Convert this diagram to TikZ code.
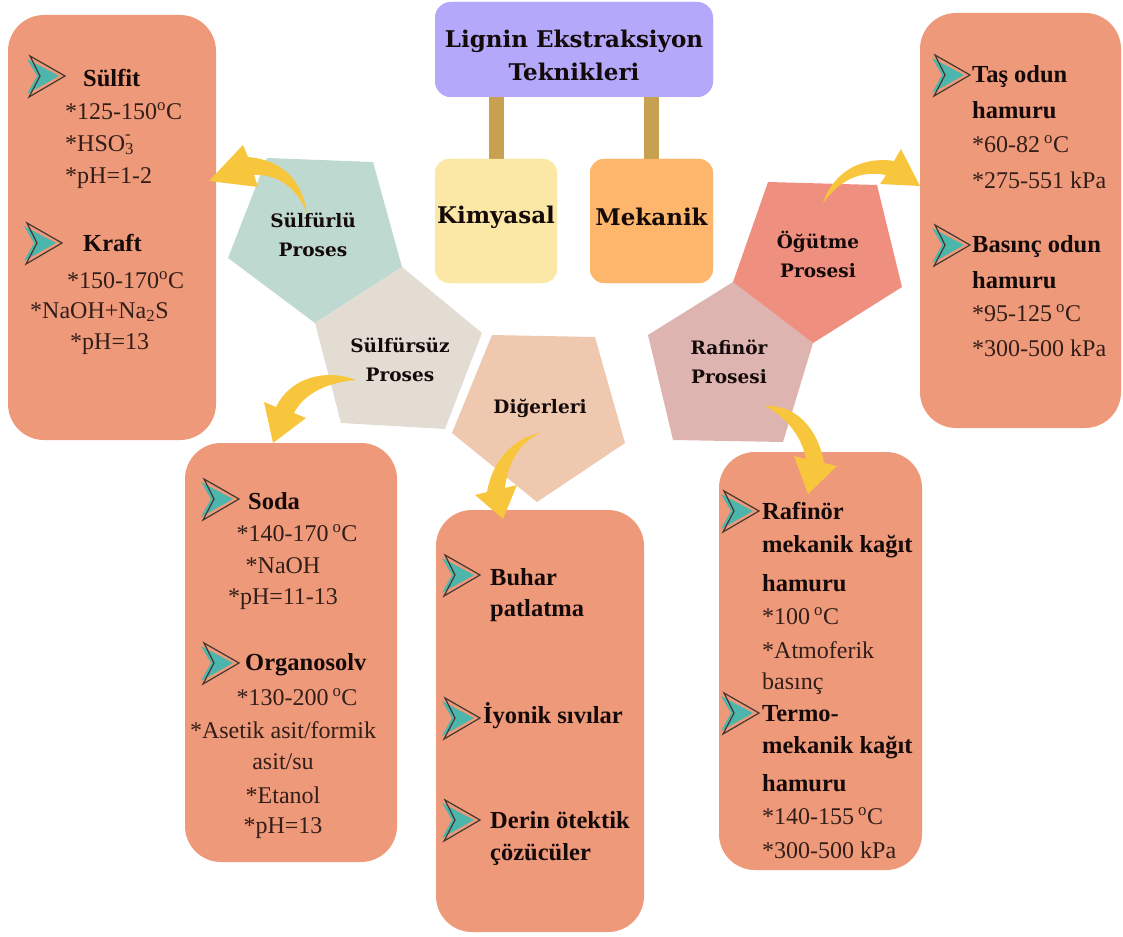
\documentclass[tikz,border=0pt]{standalone}
\usepackage{fontspec}
\setmainfont{Liberation Serif}
\newfontfamily\dvserif{DejaVu Serif}
\definecolor{boxc}{RGB}{238,153,121}
\definecolor{titlec}{RGB}{180,168,250}
\definecolor{kimc}{RGB}{252,232,166}
\definecolor{mekc}{RGB}{253,182,108}
\definecolor{barc}{RGB}{199,160,80}
\definecolor{pentA}{RGB}{190,217,208}
\definecolor{pentB}{RGB}{227,220,211}
\definecolor{pentC}{RGB}{238,200,175}
\definecolor{pentD}{RGB}{238,143,128}
\definecolor{pentE}{RGB}{222,180,176}
\definecolor{arrc}{RGB}{248,198,60}
\definecolor{tealc}{RGB}{77,182,172}
\definecolor{outc}{RGB}{70,55,50}
\definecolor{valc}{RGB}{50,30,25}
\definecolor{headc}{RGB}{20,10,10}
\tikzset{
  chev/.pic={
    \fill[tealc] (-1,-17) -- (31,0) -- (-1,18) -- (9,0) -- cycle;
    \draw[outc, line width=1.2pt, line join=miter] (2,-20) -- (37,0) -- (1,21) -- (12,0) -- cycle;
  }
}
\begin{document}
\begin{tikzpicture}[x=1pt,y=-1pt,
  obox/.style={fill=boxc, rounded corners=36pt, inner sep=0pt},
  sbox/.style={rounded corners=14pt, inner sep=0pt},
  bar/.style={draw=barc, line width=15pt},
  hd/.style={font=\fontsize{24.5}{27}\selectfont\bfseries, text=headc, anchor=west, inner sep=0pt},
  vl/.style={font=\fontsize{24}{27}\selectfont, text=valc, anchor=west, inner sep=0pt},
  vc/.style={font=\fontsize{24}{27}\selectfont, text=valc, anchor=center, inner sep=0pt},
  plabel/.style={font=\dvserif\bfseries\fontsize{18.5}{29}\selectfont, text=headc, align=center, inner sep=0pt},
  yarrow/.style={fill=arrc}
]
\useasboundingbox (0,0) rectangle (1123,936);

% ---- top of the tree: title and the two branches ----
\node[sbox, fill=kimc, minimum width=122pt, minimum height=124pt] (kim) at (496,221) {};
\node[sbox, fill=mekc, minimum width=123pt, minimum height=124pt] (mek) at (651.5,221) {};
\node[sbox, rounded corners=16pt, fill=titlec, minimum width=278pt, minimum height=95pt] (title) at (574,49.5) {};
\draw[bar] (title.south -| kim.north) -- (kim.north);
\draw[bar] (title.south -| mek.north) -- (mek.north);
\node[sbox, fill=kimc, minimum width=122pt, minimum height=124pt] at (kim) {};
\node[sbox, fill=mekc, minimum width=123pt, minimum height=124pt] at (mek) {};
\node[sbox, rounded corners=16pt, fill=titlec, minimum width=278pt, minimum height=95pt] at (title) {};
\node[font=\dvserif\bfseries\fontsize{23}{33}\selectfont, text=headc, align=center, inner sep=0pt] (titletext) at (574,55) {Lignin Ekstraksiyon\\Teknikleri};
\node[font=\dvserif\bfseries\fontsize{23}{26}\selectfont, text=headc, inner sep=0pt] (kimtext) at (496,217) {Kimyasal};
\node[font=\dvserif\bfseries\fontsize{23}{26}\selectfont, text=headc, inner sep=0pt] (mektext) at (651.5,217) {Mekanik};

% ---- pentagons ----
\fill[pentA] (267,158) -- (373,162) -- (402,267) -- (315,323) -- (228,258) -- cycle;
\fill[pentB] (402,267) -- (482,333) -- (445,429) -- (341,423) -- (315,323) -- cycle;
\fill[pentC] (492,335) -- (595,337) -- (625,443) -- (537,502) -- (452,433) -- cycle;
\fill[pentE] (733,282) -- (813,343) -- (783,442) -- (673,440) -- (648,335) -- cycle;
\fill[pentD] (768,182) -- (877,185) -- (902,287) -- (813,343) -- (733,282) -- cycle;
\node[plabel] (pSulfurlu) at (313,235) {Sülfürlü\\Proses};
\node[plabel] (pSulfursuz) at (400,360) {Sülfürsüz\\Proses};
\node[plabel] (pDiger) at (540,408) {Diğerleri};
\node[plabel] (pOgutme) at (818,254) {Öğütme\\Prosesi};
\node[plabel] (pRafinor) at (729,362) {Rafinör\\Prosesi};

% ---- detail boxes ----
\node[obox, minimum width=208pt, minimum height=425pt] (bSul) at (112,227.5) {};
\node[obox, minimum width=201pt, minimum height=415pt] (bTas) at (1020.5,220.5) {};
\node[obox, minimum width=212pt, minimum height=419pt] (bSoda) at (291,652.5) {};
\node[obox, minimum width=208pt, minimum height=422pt] (bDig) at (540,721) {};
\node[obox, minimum width=203pt, minimum height=418pt] (bRaf) at (820.5,661) {};

% ---- curved yellow arrows ----
\fill[yarrow] (307,213) .. controls (302,180) and (282,160) .. (248,157) -- (243,145) -- (209,181) -- (258,187) -- (254,175) .. controls (276,174) and (296,186) .. (307,213) -- cycle;
\fill[yarrow] (356,380) .. controls (325,368) and (290,378) .. (276,407) -- (264,402) -- (273,443) -- (306,418) -- (294,413) .. controls (305,392) and (330,382) .. (356,380) -- cycle;
\fill[yarrow] (540,433) .. controls (515,438) and (493,458) .. (487,492) -- (475,495) -- (503,519) -- (517,485) -- (505,488) .. controls (508,462) and (520,442) .. (540,433) -- cycle;
\fill[yarrow] (823,203) .. controls (833,172) and (862,156) .. (894,161) -- (901,149) -- (920,186) -- (880,184) -- (886,175) .. controls (860,170) and (840,180) .. (823,203) -- cycle;
\fill[yarrow] (765,406) .. controls (795,404) and (818,428) .. (824,463) -- (837,466) -- (808,494) -- (794,456) -- (806,459) .. controls (802,438) and (788,418) .. (765,406) -- cycle;

% ---- Sülfit / Kraft ----
\pic at (28,76) {chev};
\node[hd] (hSulfit) at (83,78) {Sülfit};
\node[vl] at (65,111) {*125-150\textsuperscript{o}C};
\node[vl] at (65,145) {*HSO\rlap{\raisebox{0.25ex}{\textsuperscript{-}}}\textsubscript{3}};
\node[vl] at (65,178) {*pH=1-2};
\pic at (25,243) {chev};
\node[hd] (hKraft) at (83,243) {Kraft};
\node[vl] at (67,280) {*150-170\textsuperscript{o}C};
\node[vl] at (30,312) {*NaOH+Na\textsubscript{2}S};
\node[vl] at (70,344) {*pH=13};

% ---- Taş / Basınç odun hamuru ----
\pic at (933,75) {chev};
\node[hd] (hTas) at (972,77) {Taş odun};
\node[hd] at (972,110) {hamuru};
\node[vl] at (972,144) {*60-82\,\textsuperscript{o}C};
\node[vl] at (972,180) {*275-551 kPa};
\pic at (933,245) {chev};
\node[hd] (hBasinc) at (972,247) {Basınç odun};
\node[hd] at (972,280) {hamuru};
\node[vl] at (972,313) {*95-125\,\textsuperscript{o}C};
\node[vl] at (972,348) {*300-500 kPa};

% ---- Soda / Organosolv ----
\pic at (202,499) {chev};
\node[hd] (hSoda) at (248,501) {Soda};
\node[vc] at (297,533) {*140-170\,\textsuperscript{o}C};
\node[vc] at (283,566) {*NaOH};
\node[vc] at (283,599) {*pH=11-13};
\pic at (202,663) {chev};
\node[hd] (hOrgano) at (245,665) {Organosolv};
\node[vc] at (297,697) {*130-200\,\textsuperscript{o}C};
\node[vc] at (283,730) {*Asetik asit/formik};
\node[vc] at (283,762) {asit/su};
\node[vc] at (283,795) {*Etanol};
\node[vc] at (283,828) {*pH=13};

% ---- Diğerleri ----
\pic at (443,575) {chev};
\node[hd] (hBuhar) at (490,577) {Buhar};
\node[hd] at (490,611) {patlatma};
\pic at (443,718) {chev};
\node[hd] (hIyonik) at (483,716) {İyonik sıvılar};
\pic at (443,820) {chev};
\node[hd] (hDerin) at (490,820) {Derin ötektik};
\node[hd] at (490,855) {çözücüler};

% ---- Rafinör / Termo-mekanik ----
\pic at (722,511) {chev};
\node[hd] (hRafinor) at (762,511) {Rafinör};
\node[hd] at (762,547) {mekanik kağıt};
\node[hd] at (762,583) {hamuru};
\node[vl] at (762,616) {*100\,\textsuperscript{o}C};
\node[vl] at (762,650) {*Atmoferik};
\node[vl] at (762,684) {basınç};
\pic at (722,713) {chev};
\node[hd] (hTermo) at (762,714) {Termo-};
\node[hd] at (762,748) {mekanik kağıt};
\node[hd] at (762,783) {hamuru};
\node[vl] at (762,816) {*140-155\,\textsuperscript{o}C};
\node[vl] at (762,850) {*300-500 kPa};
\end{tikzpicture}
\end{document}
